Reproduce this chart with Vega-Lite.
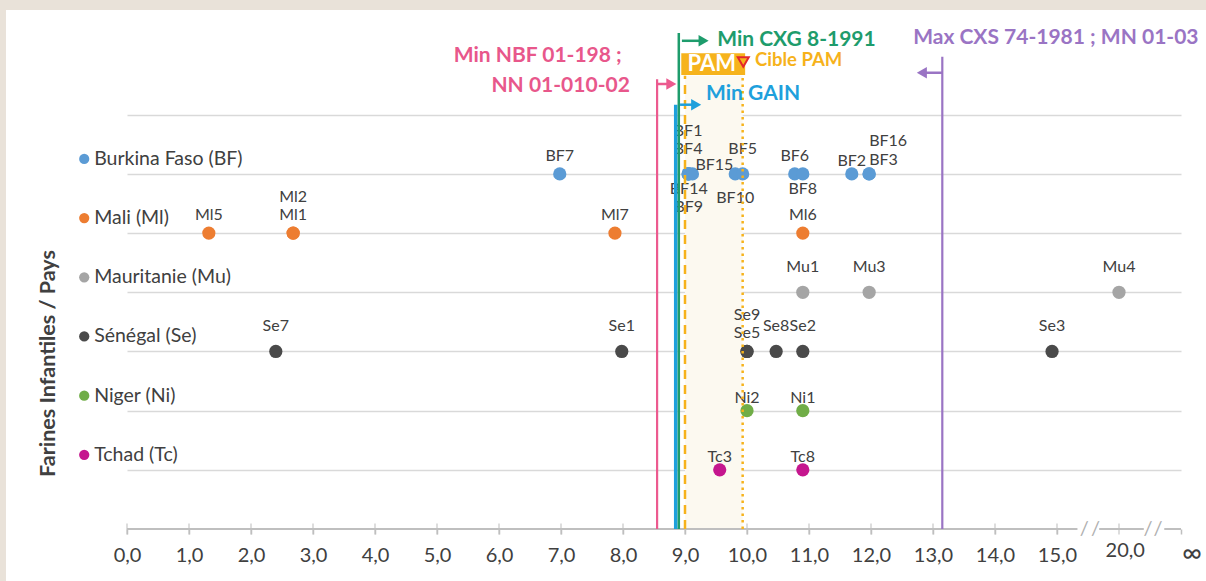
{
"$schema": "https://vega.github.io/schema/vega-lite/v6.json",
"width": 1054, "height": 503, "autosize": "none",
"padding": {"left": 127, "top": 26, "right": 25, "bottom": 52},
"background": "#ffffff",
"config": {"font": "Lato", "view": {"stroke": null}},
"datasets": {
 "pays": [
  {"code": "BF", "nom": "Burkina Faso (BF)", "r": 6},
  {"code": "Ml", "nom": "Mali (Ml)", "r": 5},
  {"code": "Mu", "nom": "Mauritanie (Mu)", "r": 4},
  {"code": "Se", "nom": "Sénégal (Se)", "r": 3},
  {"code": "Ni", "nom": "Niger (Ni)", "r": 2},
  {"code": "Tc", "nom": "Tchad (Tc)", "r": 1}
 ],
 "farines": [
  {"id": "BF7", "code": "BF", "r": 6, "x": 6.98, "pos": "h1"},
  {"id": "BF1", "code": "BF", "r": 6, "x": 9.05, "pos": "h4"},
  {"id": "BF4", "code": "BF", "r": 6, "x": 9.05, "pos": "h2"},
  {"id": "BF14", "code": "BF", "r": 6, "x": 9.06, "pos": "b1"},
  {"id": "BF9", "code": "BF", "r": 6, "x": 9.06, "pos": "b2"},
  {"id": "BF15", "code": "BF", "r": 6, "x": 9.12, "pos": "d"},
  {"id": "BF10", "code": "BF", "r": 6, "x": 9.81, "pos": "b15"},
  {"id": "BF5", "code": "BF", "r": 6, "x": 9.93, "pos": "h2"},
  {"id": "BF6", "code": "BF", "r": 6, "x": 10.77, "pos": "h1"},
  {"id": "BF8", "code": "BF", "r": 6, "x": 10.9, "pos": "b1"},
  {"id": "BF2", "code": "BF", "r": 6, "x": 11.69, "pos": "h0"},
  {"id": "BF16", "code": "BF", "r": 6, "x": 11.97, "pos": "g3"},
  {"id": "BF3", "code": "BF", "r": 6, "x": 11.97, "pos": "g0"},
  {"id": "Ml5", "code": "Ml", "r": 5, "x": 1.32, "pos": "h1"},
  {"id": "Ml1", "code": "Ml", "r": 5, "x": 2.68, "pos": "h1"},
  {"id": "Ml2", "code": "Ml", "r": 5, "x": 2.68, "pos": "h3"},
  {"id": "Ml7", "code": "Ml", "r": 5, "x": 7.87, "pos": "h1"},
  {"id": "Ml6", "code": "Ml", "r": 5, "x": 10.9, "pos": "h1"},
  {"id": "Mu1", "code": "Mu", "r": 4, "x": 10.9, "pos": "h2"},
  {"id": "Mu3", "code": "Mu", "r": 4, "x": 11.97, "pos": "h2"},
  {"id": "Mu4", "code": "Mu", "r": 4, "x": 16.0, "pos": "h2"},
  {"id": "Se7", "code": "Se", "r": 3, "x": 2.4, "pos": "h2"},
  {"id": "Se1", "code": "Se", "r": 3, "x": 7.98, "pos": "h2"},
  {"id": "Se5", "code": "Se", "r": 3, "x": 10.0, "pos": "h1"},
  {"id": "Se9", "code": "Se", "r": 3, "x": 10.0, "pos": "h3"},
  {"id": "Se8", "code": "Se", "r": 3, "x": 10.47, "pos": "h2"},
  {"id": "Se2", "code": "Se", "r": 3, "x": 10.9, "pos": "h2"},
  {"id": "Se3", "code": "Se", "r": 3, "x": 14.92, "pos": "h2"},
  {"id": "Ni2", "code": "Ni", "r": 2, "x": 10.0, "pos": "h0"},
  {"id": "Ni1", "code": "Ni", "r": 2, "x": 10.9, "pos": "h0"},
  {"id": "Tc3", "code": "Tc", "r": 1, "x": 9.56, "pos": "h0"},
  {"id": "Tc8", "code": "Tc", "r": 1, "x": 10.9, "pos": "h0"}
 ],
 "seuils": [
  {"nom": "NBF", "x": 8.55, "bas": 0, "haut": 7.6},
  {"nom": "GAIN", "x": 8.85, "bas": 0, "haut": 7.17},
  {"nom": "CXG", "x": 8.9, "bas": 0, "haut": 8.38},
  {"nom": "PAMmin", "x": 9.0, "bas": 0, "haut": 7.66},
  {"nom": "PAMcible", "x": 9.93, "bas": 0, "haut": 7.67},
  {"nom": "CXS", "x": 13.15, "bas": 0, "haut": 7.98}
 ],
 "zones": [
  {"nom": "cadre_haut", "x": -2.3, "x2": 18, "y": 8.77, "y2": 9.3},
  {"nom": "cadre_gauche", "x": -2.3, "x2": -1.952, "y": -1.2, "y2": 9.3},
  {"nom": "plage_PAM", "x": 9.0, "x2": 9.93, "y": 0, "y2": 7.66},
  {"nom": "boite_PAM", "x": 8.94, "x2": 9.97, "y": 7.67, "y2": 8.04}
 ],
 "fleches": [
  {"nom": "NBF", "x": 8.55, "x2": 8.78, "y": 7.52, "sens": "droite"},
  {"nom": "CXG", "x": 8.95, "x2": 9.3, "y": 8.25, "sens": "droite"},
  {"nom": "GAIN", "x": 8.92, "x2": 9.18, "y": 7.17, "sens": "droite"},
  {"nom": "CXS", "x": 13.15, "x2": 12.82, "y": 7.71, "sens": "gauche"}
 ],
 "notes": [
  {"groupe": "NBF", "texte": "Min NBF 01-198 ;", "x": 7.98, "y": 8.0},
  {"groupe": "NBF", "texte": "NN 01-010-02", "x": 8.11, "y": 7.49},
  {"groupe": "CXG", "texte": "Min CXG 8-1991", "x": 9.52, "y": 8.26},
  {"groupe": "CXS", "texte": "Max CXS 74-1981 ; MN 01-03", "x": 12.68, "y": 8.29},
  {"groupe": "GAIN", "texte": "Min GAIN", "x": 9.34, "y": 7.35},
  {"groupe": "PAM", "texte": "PAM", "x": 9.43, "y": 7.85},
  {"groupe": "Cible", "texte": "Cible PAM", "x": 10.13, "y": 7.92},
  {"groupe": "infini", "texte": "∞", "x": 17.18, "y": 0},
  {"groupe": "vingt", "texte": "20,0", "x": 16.1, "y": 0},
  {"groupe": "cible_tri", "texte": "", "x": 9.94, "y": 7.89}
 ],
 "axe": [{"de": 0, "a": 15.33, "y": 0}, {"de": 15.68, "a": 16.4, "y": 0}, {"de": 16.73, "a": 17, "y": 0}],
 "coupures": [{"x": 15.44, "y": 0}, {"x": 15.62, "y": 0}, {"x": 16.47, "y": 0}, {"x": 16.63, "y": 0}],
 "graduations": [{"v":0},{"v":1},{"v":2},{"v":3},{"v":4},{"v":5},{"v":6},{"v":7},{"v":8},{"v":9},{"v":10},{"v":11},{"v":12},{"v":13},{"v":14},{"v":15},{"v":16}]
},
"resolve": {"scale": {"color": "independent"}},
"layer": [
 {"data": {"name": "zones"}, "transform": [{"filter": "datum.nom == 'cadre_haut' || datum.nom == 'cadre_gauche'"}], "mark": {"type": "rect", "color": "#e9e2d9"},
  "encoding": {"x": {"field": "x", "type": "quantitative"}, "x2": {"field": "x2"}, "y": {"field": "y", "type": "quantitative"}, "y2": {"field": "y2"}}},
 {"data": {"name": "zones"}, "transform": [{"filter": "datum.nom == 'plage_PAM'"}], "mark": {"type": "rect", "color": "#fcf9f0"},
  "encoding": {"x": {"field": "x", "type": "quantitative"}, "x2": {"field": "x2"}, "y": {"field": "y", "type": "quantitative"}, "y2": {"field": "y2"}}},
 {"data": {"name": "axe"}, "mark": {"type": "rule", "color": "#bfbfbf", "strokeWidth": 2},
  "encoding": {"x": {"field": "de", "type": "quantitative"}, "x2": {"field": "a"}, "y": {"field": "y", "type": "quantitative"}}},
 {"data": {"name": "graduations"}, "mark": {"type": "tick", "orient": "vertical", "color": "#bfbfbf", "thickness": 1.5, "size": 11},
  "encoding": {"x": {"field": "v", "type": "quantitative"}, "y": {"datum": 0, "type": "quantitative"}}},
 {"data": {"name": "coupures"}, "mark": {"type": "text", "text": "/", "color": "#b0b0b0", "fontSize": 20, "baseline": "middle"},
  "encoding": {"x": {"field": "x", "type": "quantitative"}, "y": {"field": "y", "type": "quantitative"}}},
 {"data": {"name": "notes"}, "transform": [{"filter": "datum.groupe == 'infini'"}], "mark": {"type": "text", "color": "#404040", "fontSize": 27, "baseline": "middle", "dy": 25},
  "encoding": {"x": {"field": "x", "type": "quantitative"}, "y": {"field": "y", "type": "quantitative"}, "text": {"field": "texte"}}},
 {"data": {"name": "notes"}, "transform": [{"filter": "datum.groupe == 'vingt'"}], "mark": {"type": "text", "color": "#404040", "fontSize": 20, "baseline": "middle", "dy": 22},
  "encoding": {"x": {"field": "x", "type": "quantitative"}, "y": {"field": "y", "type": "quantitative"}, "text": {"field": "texte"}}},
 {"data": {"name": "farines"}, "mark": {"type": "point", "filled": true, "size": 175, "opacity": 1},
  "encoding": {
   "x": {"field": "x", "type": "quantitative", "scale": {"domain": [0, 17], "nice": false, "zero": false},
    "axis": {"title": null, "domain": false, "grid": false,
     "values": [0,0.5,1,1.5,2,2.5,3,3.5,4,4.5,5,5.5,6,6.5,7,7.5,8,8.5,9,9.5,10,10.5,11,11.5,12,12.5,13,13.5,14,14.5,15,16,17],
     "tickColor": "#bfbfbf", "tickSize": 5, "tickWidth": 1.5,
     "labelExpr": "datum.value <= 15 && datum.value == floor(datum.value) ? replace(format(datum.value, '.1f'), '.', ',') : ''",
     "labelFontSize": 20, "labelColor": "#404040", "labelPadding": 11, "labelFont": "Lato",
     "labelFlush": false, "labelOverlap": false, "labelBound": false}},
   "y": {"field": "r", "type": "quantitative", "scale": {"domain": [0, 8.5], "nice": false, "zero": false},
    "axis": {"values": [1,2,3,4,5,6,7], "grid": true, "gridColor": "#d9d9d9", "gridWidth": 1.5, "labels": false, "ticks": false, "domain": false,
     "title": "Farines Infantiles / Pays", "titleFontSize": 21.5, "titleFontWeight": "bold", "titleColor": "#404040", "titleFont": "Lato",
     "titleX": -79, "titleY": 337, "titleBaseline": "middle", "titleAngle": -90, "titleAlign": "center"}},
   "color": {"field": "code", "type": "nominal", "scale": {"domain": ["BF","Ml","Mu","Se","Ni","Tc"], "range": ["#5b9bd5","#ed7d31","#a5a5a5","#4a4a4a","#70ad47","#c5168e"]}, "legend": null}
  }},
 {"data": {"name": "farines"}, "transform": [{"filter": "datum.pos == 'h0'"}],
  "mark": {"type": "text", "fontSize": 16, "color": "#404040", "baseline": "bottom", "dy": -5},
  "encoding": {"x": {"field": "x", "type": "quantitative"}, "y": {"field": "r", "type": "quantitative"}, "text": {"field": "id"}}},
 {"data": {"name": "farines"}, "transform": [{"filter": "datum.pos == 'h1'"}],
  "mark": {"type": "text", "fontSize": 16, "color": "#404040", "baseline": "bottom", "dy": -10},
  "encoding": {"x": {"field": "x", "type": "quantitative"}, "y": {"field": "r", "type": "quantitative"}, "text": {"field": "id"}}},
 {"data": {"name": "farines"}, "transform": [{"filter": "datum.pos == 'h2'"}],
  "mark": {"type": "text", "fontSize": 16, "color": "#404040", "baseline": "bottom", "dy": -17},
  "encoding": {"x": {"field": "x", "type": "quantitative"}, "y": {"field": "r", "type": "quantitative"}, "text": {"field": "id"}}},
 {"data": {"name": "farines"}, "transform": [{"filter": "datum.pos == 'h3'"}],
  "mark": {"type": "text", "fontSize": 16, "color": "#404040", "baseline": "bottom", "dy": -28},
  "encoding": {"x": {"field": "x", "type": "quantitative"}, "y": {"field": "r", "type": "quantitative"}, "text": {"field": "id"}}},
 {"data": {"name": "farines"}, "transform": [{"filter": "datum.pos == 'h4'"}],
  "mark": {"type": "text", "fontSize": 16, "color": "#404040", "baseline": "bottom", "dy": -35},
  "encoding": {"x": {"field": "x", "type": "quantitative"}, "y": {"field": "r", "type": "quantitative"}, "text": {"field": "id"}}},
 {"data": {"name": "farines"}, "transform": [{"filter": "datum.pos == 'b1'"}],
  "mark": {"type": "text", "fontSize": 16, "color": "#404040", "baseline": "top", "dy": 7},
  "encoding": {"x": {"field": "x", "type": "quantitative"}, "y": {"field": "r", "type": "quantitative"}, "text": {"field": "id"}}},
 {"data": {"name": "farines"}, "transform": [{"filter": "datum.pos == 'b15'"}],
  "mark": {"type": "text", "fontSize": 16, "color": "#404040", "baseline": "top", "dy": 16},
  "encoding": {"x": {"field": "x", "type": "quantitative"}, "y": {"field": "r", "type": "quantitative"}, "text": {"field": "id"}}},
 {"data": {"name": "farines"}, "transform": [{"filter": "datum.pos == 'b2'"}],
  "mark": {"type": "text", "fontSize": 16, "color": "#404040", "baseline": "top", "dy": 25},
  "encoding": {"x": {"field": "x", "type": "quantitative"}, "y": {"field": "r", "type": "quantitative"}, "text": {"field": "id"}}},
 {"data": {"name": "farines"}, "transform": [{"filter": "datum.pos == 'd'"}],
  "mark": {"type": "text", "fontSize": 16, "color": "#404040", "baseline": "middle", "align": "left", "dx": 3, "dy": -9},
  "encoding": {"x": {"field": "x", "type": "quantitative"}, "y": {"field": "r", "type": "quantitative"}, "text": {"field": "id"}}},
 {"data": {"name": "farines"}, "transform": [{"filter": "datum.pos == 'g0'"}],
  "mark": {"type": "text", "fontSize": 16, "color": "#404040", "baseline": "bottom", "align": "left", "dx": 0, "dy": -6},
  "encoding": {"x": {"field": "x", "type": "quantitative"}, "y": {"field": "r", "type": "quantitative"}, "text": {"field": "id"}}},
 {"data": {"name": "farines"}, "transform": [{"filter": "datum.pos == 'g3'"}],
  "mark": {"type": "text", "fontSize": 16, "color": "#404040", "baseline": "bottom", "align": "left", "dx": 0, "dy": -25},
  "encoding": {"x": {"field": "x", "type": "quantitative"}, "y": {"field": "r", "type": "quantitative"}, "text": {"field": "id"}}},
 {"data": {"name": "pays"}, "mark": {"type": "point", "filled": true, "size": 105, "opacity": 1, "yOffset": -15},
  "encoding": {"x": {"datum": -0.69, "type": "quantitative"}, "y": {"field": "r", "type": "quantitative"},
   "color": {"field": "code", "type": "nominal", "scale": {"domain": ["BF","Ml","Mu","Se","Ni","Tc"], "range": ["#5b9bd5","#ed7d31","#a5a5a5","#4a4a4a","#70ad47","#c5168e"]}, "legend": null}}},
 {"data": {"name": "pays"}, "mark": {"type": "text", "fontSize": 19.5, "color": "#404040", "align": "left", "baseline": "middle", "yOffset": -15},
  "encoding": {"x": {"datum": -0.53, "type": "quantitative"}, "y": {"field": "r", "type": "quantitative"}, "text": {"field": "nom"}}},
 {"data": {"name": "seuils"}, "transform": [{"filter": "datum.nom == 'NBF'"}], "mark": {"type": "rule", "color": "#ec5a8f", "strokeWidth": 2.2},
  "encoding": {"x": {"field": "x", "type": "quantitative"}, "y": {"field": "bas", "type": "quantitative"}, "y2": {"field": "haut"}}},
 {"data": {"name": "seuils"}, "transform": [{"filter": "datum.nom == 'GAIN'"}], "mark": {"type": "rule", "color": "#1ea0dc", "strokeWidth": 3.5},
  "encoding": {"x": {"field": "x", "type": "quantitative"}, "y": {"field": "bas", "type": "quantitative"}, "y2": {"field": "haut"}}},
 {"data": {"name": "seuils"}, "transform": [{"filter": "datum.nom == 'CXG'"}], "mark": {"type": "rule", "color": "#1e9c6c", "strokeWidth": 2.5},
  "encoding": {"x": {"field": "x", "type": "quantitative"}, "y": {"field": "bas", "type": "quantitative"}, "y2": {"field": "haut"}}},
 {"data": {"name": "seuils"}, "transform": [{"filter": "datum.nom == 'PAMmin'"}], "mark": {"type": "rule", "color": "#f6b21b", "strokeWidth": 2.5, "strokeDash": [9, 6]},
  "encoding": {"x": {"field": "x", "type": "quantitative"}, "y": {"field": "bas", "type": "quantitative"}, "y2": {"field": "haut"}}},
 {"data": {"name": "seuils"}, "transform": [{"filter": "datum.nom == 'PAMcible'"}], "mark": {"type": "rule", "color": "#f6b21b", "strokeWidth": 2.5, "strokeDash": [2.5, 4]},
  "encoding": {"x": {"field": "x", "type": "quantitative"}, "y": {"field": "bas", "type": "quantitative"}, "y2": {"field": "haut"}}},
 {"data": {"name": "seuils"}, "transform": [{"filter": "datum.nom == 'CXS'"}], "mark": {"type": "rule", "color": "#9a74c4", "strokeWidth": 2.2},
  "encoding": {"x": {"field": "x", "type": "quantitative"}, "y": {"field": "bas", "type": "quantitative"}, "y2": {"field": "haut"}}},
 {"data": {"name": "fleches"}, "mark": {"type": "rule", "strokeWidth": 2.5},
  "encoding": {"x": {"field": "x", "type": "quantitative"}, "x2": {"field": "x2"}, "y": {"field": "y", "type": "quantitative"},
   "color": {"field": "nom", "type": "nominal", "scale": {"domain": ["NBF","CXG","GAIN","CXS"], "range": ["#ec5a8f","#1e9c6c","#1ea0dc","#9a74c4"]}, "legend": null}}},
 {"data": {"name": "fleches"}, "mark": {"type": "point", "filled": true, "size": 135, "opacity": 1},
  "encoding": {"x": {"field": "x2", "type": "quantitative"}, "y": {"field": "y", "type": "quantitative"},
   "color": {"field": "nom", "type": "nominal", "scale": {"domain": ["NBF","CXG","GAIN","CXS"], "range": ["#ec5a8f","#1e9c6c","#1ea0dc","#9a74c4"]}, "legend": null},
   "shape": {"field": "sens", "type": "nominal", "scale": {"domain": ["droite","gauche"], "range": ["triangle-right","triangle-left"]}, "legend": null}}},
 {"data": {"name": "zones"}, "transform": [{"filter": "datum.nom == 'boite_PAM'"}], "mark": {"type": "rect", "color": "#f6b31c"},
  "encoding": {"x": {"field": "x", "type": "quantitative"}, "x2": {"field": "x2"}, "y": {"field": "y", "type": "quantitative"}, "y2": {"field": "y2"}}},
 {"data": {"name": "notes"}, "transform": [{"filter": "datum.groupe == 'NBF'"}],
  "mark": {"type": "text", "fontSize": 21, "fontWeight": "bold", "align": "right", "baseline": "middle", "color": "#e8578b"},
  "encoding": {"x": {"field": "x", "type": "quantitative"}, "y": {"field": "y", "type": "quantitative"}, "text": {"field": "texte"}}},
 {"data": {"name": "notes"}, "transform": [{"filter": "datum.groupe == 'CXG' || datum.groupe == 'CXS' || datum.groupe == 'GAIN'"}],
  "mark": {"type": "text", "fontSize": 21, "fontWeight": "bold", "align": "left", "baseline": "middle"},
  "encoding": {"x": {"field": "x", "type": "quantitative"}, "y": {"field": "y", "type": "quantitative"}, "text": {"field": "texte"},
   "color": {"field": "groupe", "type": "nominal", "scale": {"domain": ["CXG","CXS","GAIN"], "range": ["#1e9c6c","#9a74c4","#1ea0dc"]}, "legend": null}}},
 {"data": {"name": "notes"}, "transform": [{"filter": "datum.groupe == 'PAM'"}],
  "mark": {"type": "text", "fontSize": 22, "fontWeight": "bold", "align": "center", "baseline": "middle", "color": "#ffffff"},
  "encoding": {"x": {"field": "x", "type": "quantitative"}, "y": {"field": "y", "type": "quantitative"}, "text": {"field": "texte"}}},
 {"data": {"name": "notes"}, "transform": [{"filter": "datum.groupe == 'Cible'"}],
  "mark": {"type": "text", "fontSize": 18.5, "fontWeight": "bold", "align": "left", "baseline": "middle", "color": "#f6b21b"},
  "encoding": {"x": {"field": "x", "type": "quantitative"}, "y": {"field": "y", "type": "quantitative"}, "text": {"field": "texte"}}},
 {"data": {"name": "notes"}, "transform": [{"filter": "datum.groupe == 'cible_tri'"}],
  "mark": {"type": "point", "shape": "triangle-down", "filled": true, "fill": "#f6b31c", "stroke": "#e3262b", "strokeWidth": 2, "size": 120, "opacity": 1},
  "encoding": {"x": {"field": "x", "type": "quantitative"}, "y": {"field": "y", "type": "quantitative"}}}
]
}
